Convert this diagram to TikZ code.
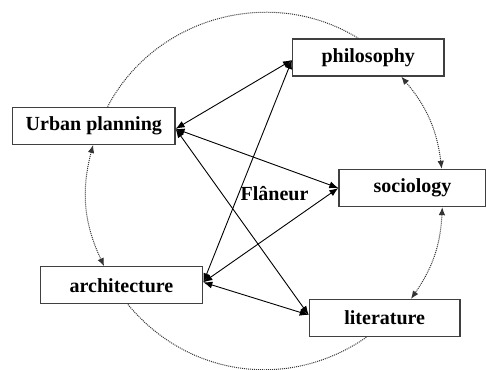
\documentclass[tikz,border=0pt]{standalone}
\usepackage{fontspec}
\setmainfont{Liberation Serif}
\usetikzlibrary{arrows.meta,calc}
\begin{document}
\begin{tikzpicture}[x=1pt,y=1pt,
  box/.style={draw=black!75, line width=1.3pt, fill=white, minimum height=37pt, inner sep=0pt,
    font=\fontsize{20}{22}\selectfont\bfseries},
  link/.style={line width=0.9pt, {Latex[length=9pt,width=7pt]}-{Latex[length=9pt,width=7pt]}},
  ring/.style={black!80, line width=1pt, dash pattern=on 1pt off 1pt},
  ringarrow/.style={ring, {Latex[length=8pt,width=6.5pt]}-{Latex[length=8pt,width=6.5pt]}}
]
\useasboundingbox (0,0) rectangle (486,-369);
% nodes
\node[box, minimum width=151.3pt] (phil) at (368.3,-57.5) {philosophy};
\node[box, minimum width=162.3pt] (up) at (93.8,-125.8) {Urban planning};
\node[box, minimum width=147pt] (soc) at (412.5,-188) {sociology};
\node[box, minimum width=162.4pt] (arch) at (121.5,-285.3) {architecture};
\node[box, minimum width=150.7pt] (lit) at (384.7,-318) {literature};
\node[font=\fontsize{20}{22}\selectfont\bfseries] (fl) at (274.5,-194) {Flâneur};
% dotted ring
\draw[ring] ([xshift=13.8pt]up.north) to[bend left=47] ([xshift=-9.9pt]phil.north);
\draw[ring] ([xshift=6.4pt]arch.south) to[bend right=42.6] ([xshift=-18.2pt]lit.south);
\draw[ringarrow] ([xshift=-0.7pt]up.south) to[bend right=20] ([xshift=-17.4pt]arch.north);
\draw[ringarrow] ([xshift=33pt]phil.south) to[bend left=16.6] ([xshift=29.2pt]soc.north);
\draw[ringarrow] ([xshift=29.8pt]soc.south) to[bend left=16] ([xshift=26.3pt]lit.north);
% solid links
\draw[link] ([yshift=-3pt]up.east) -- ([yshift=-2.5pt]phil.west);
\draw[link] ([yshift=-3pt]up.east) -- (soc.west);
\draw[link] ([yshift=-3pt]up.east) -- ([yshift=3pt]lit.west);
\draw[link] ([yshift=3pt]arch.east) -- ([yshift=-2.5pt]phil.west);
\draw[link] ([yshift=3pt]arch.east) -- (soc.west);
\draw[link] ([yshift=3pt]arch.east) -- ([yshift=3pt]lit.west);
\end{tikzpicture}
\end{document}
